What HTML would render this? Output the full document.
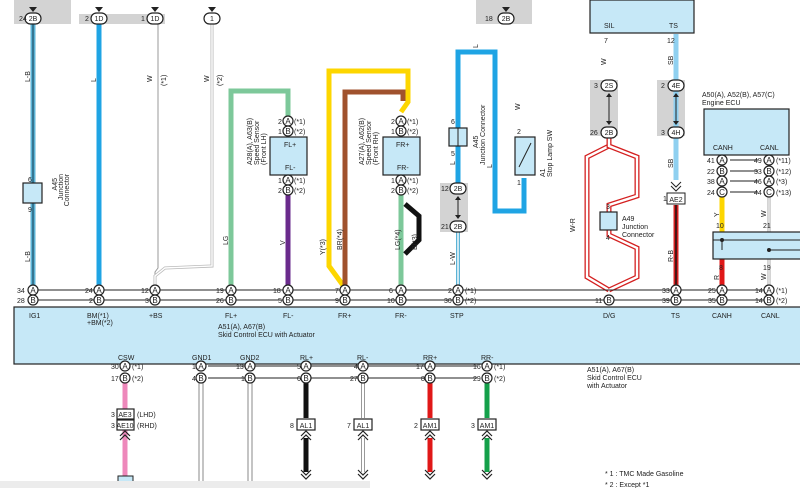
<!DOCTYPE html>
<html><head><meta charset="utf-8"><style>
html,body{margin:0;padding:0;background:#fff;width:800px;height:488px;overflow:hidden}
svg{display:block}
text{font-family:"Liberation Sans",sans-serif;fill:#222}
</style></head><body>
<svg width="800" height="488" viewBox="0 0 800 488" xmlns="http://www.w3.org/2000/svg">
<defs>
<g id="ca"><circle r="5" fill="#fff" stroke="#222" stroke-width="1.2"/><text y="3" font-size="8" text-anchor="middle">A</text></g>
<g id="cb"><circle r="5" fill="#fff" stroke="#222" stroke-width="1.2"/><text y="3" font-size="8" text-anchor="middle">B</text></g>
<g id="cc"><circle r="5" fill="#fff" stroke="#222" stroke-width="1.2"/><text y="3" font-size="8" text-anchor="middle">C</text></g>
<path id="chu" d="M-5,5 L0,0 L5,5 M-5,9 L0,4 L5,9" fill="none" stroke="#222" stroke-width="1.2"/>
<path id="chd" d="M-5,-5 L0,0 L5,-5 M-5,-9 L0,-4 L5,-9" fill="none" stroke="#222" stroke-width="1.2"/>
</defs>
<g font-size="7">
<rect x="14" y="0" width="57" height="24" fill="#d3d3d3"/>
<rect x="79" y="14" width="86" height="10" fill="#d3d3d3"/>
<rect x="476" y="0" width="56" height="24" fill="#d3d3d3"/>
<rect x="590" y="80" width="28" height="56" fill="#d3d3d3"/>
<rect x="657" y="80" width="28" height="56" fill="#d3d3d3"/>
<rect x="440" y="183" width="28" height="49" fill="#d3d3d3"/>

<line x1="33" y1="24" x2="33" y2="290" stroke="#5bb3d6" stroke-width="5"/>
<line x1="33" y1="24" x2="33" y2="290" stroke="#1d4e66" stroke-width="1.2"/>
<line x1="99" y1="24" x2="99" y2="290" stroke="#1fa4e4" stroke-width="5"/>
<polyline points="158,24 158,268 155,272 155,290" fill="none" stroke="#999" stroke-width="1"/>
<polyline points="212,24 212,266 165,268 155,276 155,290" fill="none" stroke="#bbb" stroke-width="3"/>
<polyline points="212,24 212,266 165,268 155,276 155,290" fill="none" stroke="#fff" stroke-width="1.4"/>
<polyline points="231,290 231,91 288,91 288,118" fill="none" stroke="#7dc89a" stroke-width="5"/>
<line x1="288" y1="192" x2="288" y2="290" stroke="#6a2b8c" stroke-width="5"/>
<polyline points="345,288 329,266 329,71 408,71 408,102 401,112" fill="none" stroke="#fdd600" stroke-width="5"/>
<polyline points="345,290 345,92 403,92 403,101" fill="none" stroke="#a0522d" stroke-width="5"/>
<line x1="401" y1="192" x2="401" y2="290" stroke="#7dc89a" stroke-width="5"/>
<polyline points="405,204 419,216 419,240 405,254" fill="none" stroke="#111" stroke-width="5"/>
<polyline points="458,185 458,52 495,52 495,211 524,211 524,178" fill="none" stroke="#1fa4e4" stroke-width="5"/>
<line x1="458" y1="231" x2="458" y2="290" stroke="#5bb3d6" stroke-width="4"/>
<line x1="458" y1="231" x2="458" y2="290" stroke="#fff" stroke-width="1.4"/>
<line x1="676" y1="34" x2="676" y2="180" stroke="#8fd0f0" stroke-width="5"/>
<line x1="676" y1="205" x2="676" y2="290" stroke="#d42020" stroke-width="5"/>
<line x1="676" y1="205" x2="676" y2="290" stroke="#111" stroke-width="1.4"/>
<polyline points="609,137 609,146 587,157 587,277 609,290" fill="none" stroke="#d42020" stroke-width="5"/>
<polyline points="609,137 609,146 587,157 587,277 609,290" fill="none" stroke="#fff" stroke-width="2.4"/>
<polyline points="609,137 609,146 637,157 637,196 609,205 609,235 637,248 637,277 609,290" fill="none" stroke="#d42020" stroke-width="5"/>
<polyline points="609,137 609,146 637,157 637,196 609,205 609,235 637,248 637,277 609,290" fill="none" stroke="#fff" stroke-width="2.4"/>
<line x1="722" y1="196" x2="722" y2="232" stroke="#fdd600" stroke-width="5"/>
<line x1="722" y1="259" x2="722" y2="290" stroke="#e01818" stroke-width="5"/>
<line x1="769" y1="196" x2="769" y2="290" stroke="#aaa" stroke-width="3"/>
<line x1="769" y1="196" x2="769" y2="290" stroke="#fff" stroke-width="1.2"/>

<g stroke="#222" stroke-width="1.2" fill="#fff">
<rect x="25" y="13" width="16" height="11" rx="5.5"/><rect x="91" y="13" width="16" height="11" rx="5.5"/><rect x="147" y="13" width="16" height="11" rx="5.5"/><rect x="204" y="13" width="16" height="11" rx="5.5"/>
<rect x="498" y="13" width="16" height="11" rx="5.5"/>
<rect x="601" y="80" width="16" height="11" rx="5.5"/><rect x="601" y="127" width="16" height="11" rx="5.5"/>
<rect x="668" y="80" width="16" height="11" rx="5.5"/><rect x="668" y="127" width="16" height="11" rx="5.5"/>
<rect x="450" y="183" width="16" height="11" rx="5.5"/><rect x="450" y="221" width="16" height="11" rx="5.5"/>
</g>
<text x="33" y="21" text-anchor="middle">2B</text><text x="19" y="21">24</text>
<text x="99" y="21" text-anchor="middle">1D</text><text x="85" y="21">2</text>
<text x="155" y="21" text-anchor="middle">1D</text><text x="141" y="21">1</text>
<text x="212" y="21" text-anchor="middle">1</text>
<text x="506" y="21" text-anchor="middle">2B</text><text x="485" y="21">18</text>
<text x="609" y="88" text-anchor="middle">2S</text><text x="594" y="88">3</text>
<text x="609" y="135" text-anchor="middle">2B</text><text x="590" y="135">26</text>
<text x="676" y="88" text-anchor="middle">4E</text><text x="661" y="88">2</text>
<text x="676" y="135" text-anchor="middle">4H</text><text x="661" y="135">3</text>
<text x="458" y="191" text-anchor="middle">2B</text><text x="441" y="191">12</text>
<text x="458" y="229" text-anchor="middle">2B</text><text x="441" y="229">21</text>
<g stroke="#222" stroke-width="1"><line x1="609" y1="94" x2="609" y2="124"/><line x1="676" y1="94" x2="676" y2="124"/><line x1="458" y1="197" x2="458" y2="218"/></g>
<g fill="#222"><path d="M29,7 L33,12 L37,7Z"/><path d="M95,7 L99,12 L103,7Z"/><path d="M151,7 L155,12 L159,7Z"/><path d="M208,7 L212,12 L216,7Z"/><path d="M502,7 L506,12 L510,7Z"/>
<path d="M606,97 L609,93 L612,97Z"/><path d="M606,121 L609,125 L612,121Z"/><path d="M673,97 L676,93 L679,97Z"/><path d="M673,121 L676,125 L679,121Z"/><path d="M455,200 L458,196 L461,200Z"/><path d="M455,215 L458,219 L461,215Z"/></g>

<g stroke="#222" stroke-width="1.2" fill="#c6e8f7">
<rect x="23" y="183" width="19" height="20"/>
<rect x="270" y="137" width="37" height="38"/>
<rect x="383" y="137" width="37" height="38"/>
<rect x="449" y="128" width="18" height="18"/>
<rect x="515" y="137" width="20" height="38"/>
<rect x="600" y="212" width="17" height="18"/>
<rect x="590" y="0" width="104" height="33"/>
<rect x="704" y="109" width="85" height="46"/>
<rect x="713" y="232" width="90" height="27"/>
<rect x="14" y="307" width="790" height="57"/>
</g>
<g stroke="#222" stroke-width="1"><line x1="458" y1="128" x2="458" y2="146"/><line x1="713" y1="240" x2="800" y2="240"/><line x1="722" y1="240" x2="722" y2="250"/><line x1="769" y1="250" x2="800" y2="250"/><line x1="519" y1="167" x2="531" y2="143"/></g>
<circle cx="722" cy="240" r="2" fill="#222"/><circle cx="769" cy="250" r="2" fill="#222"/>
<text x="284" y="147" font-size="7">FL+</text><text x="285" y="170">FL-</text>
<text x="396" y="147">FR+</text><text x="397" y="170">FR-</text>
<text x="604" y="28">SIL</text><text x="669" y="28">TS</text>
<text x="713" y="150">CANH</text><text x="760" y="150">CANL</text>
<text x="702" y="97">A50(A), A52(B), A57(C)</text><text x="702" y="105">Engine ECU</text>
<text x="604" y="43">7</text><text x="667" y="43">12</text>
<text x="622" y="221" font-size="7">A49</text><text x="622" y="229">Junction</text><text x="622" y="237">Connector</text>
<text x="663" y="201">12</text>
<rect x="667" y="193" width="18" height="11" fill="#fff" stroke="#222"/><text x="676" y="202" text-anchor="middle">AE2</text>
<path d="M671,182 L676,187 L681,182 M671,186 L676,191 L681,186" fill="none" stroke="#222"/>

<g font-size="7">
<text transform="translate(57,178) rotate(-90)" text-anchor="end">A45</text>
<text transform="translate(63,174) rotate(-90)" text-anchor="end">Junction</text>
<text transform="translate(69,174) rotate(-90)" text-anchor="end">Connector</text>
<text transform="translate(252,165) rotate(-90)">A28(A), A63(B)</text>
<text transform="translate(259,165) rotate(-90)">Speed Sensor</text>
<text transform="translate(266,165) rotate(-90)">(Front LH)</text>
<text transform="translate(364,165) rotate(-90)">A27(A), A62(B)</text>
<text transform="translate(371,165) rotate(-90)">Speed Sensor</text>
<text transform="translate(378,165) rotate(-90)">(Front RH)</text>
<text transform="translate(478,148) rotate(-90)">A45</text>
<text transform="translate(485,165) rotate(-90)">Junction Connector</text>
<text transform="translate(545,177) rotate(-90)">A1</text>
<text transform="translate(552,177) rotate(-90)">Stop Lamp SW</text>
<text transform="translate(30,82) rotate(-90)">L-B</text><text transform="translate(30,262) rotate(-90)">L-B</text>
<text transform="translate(96,82) rotate(-90)">L</text>
<text transform="translate(152,82) rotate(-90)">W</text><text transform="translate(166,86) rotate(-90)">(*1)</text>
<text transform="translate(209,82) rotate(-90)">W</text><text transform="translate(222,86) rotate(-90)">(*2)</text>
<text transform="translate(228,245) rotate(-90)">LG</text><text transform="translate(285,245) rotate(-90)">V</text>
<text transform="translate(325,255) rotate(-90)">Y(*3)</text><text transform="translate(342,250) rotate(-90)">BR(*4)</text>
<text transform="translate(400,250) rotate(-90)">LG(*4)</text><text transform="translate(417,250) rotate(-90)">B(*3)</text>
<text transform="translate(455,265) rotate(-90)">L-W</text><text transform="translate(455,165) rotate(-90)">L</text>
<text transform="translate(478,48) rotate(-90)">L</text><text transform="translate(492,168) rotate(-90)">L</text>
<text transform="translate(520,110) rotate(-90)">W</text>
<text transform="translate(606,65) rotate(-90)">W</text>
<text transform="translate(673,65) rotate(-90)">SB</text><text transform="translate(673,168) rotate(-90)">SB</text>
<text transform="translate(673,262) rotate(-90)">R-B</text>
<text transform="translate(719,217) rotate(-90)">Y</text><text transform="translate(719,280) rotate(-90)">R</text>
<text transform="translate(766,217) rotate(-90)">W</text><text transform="translate(766,280) rotate(-90)">W</text>
<text transform="translate(575,232) rotate(-90)">W-R</text>
</g>
<text x="28" y="182">6</text><text x="28" y="212">9</text>
<text x="451" y="124">6</text><text x="451" y="156">5</text>
<text x="517" y="134">2</text><text x="517" y="185">1</text>
<text x="606" y="209">3</text><text x="606" y="240">4</text>

<g stroke="#222" stroke-width="1">
<line x1="38" y1="290" x2="764" y2="290"/><line x1="38" y1="300" x2="764" y2="300"/>
</g>
<g>
<use href="#ca" x="33" y="290"/><use href="#cb" x="33" y="300"/>
<use href="#ca" x="99" y="290"/><use href="#cb" x="99" y="300"/>
<use href="#ca" x="155" y="290"/><use href="#cb" x="155" y="300"/>
<use href="#ca" x="231" y="290"/><use href="#cb" x="231" y="300"/>
<use href="#ca" x="288" y="290"/><use href="#cb" x="288" y="300"/>
<use href="#ca" x="345" y="290"/><use href="#cb" x="345" y="300"/>
<use href="#ca" x="401" y="290"/><use href="#cb" x="401" y="300"/>
<use href="#ca" x="458" y="290"/><use href="#cb" x="458" y="300"/>
<use href="#cb" x="609" y="300"/>
<use href="#ca" x="676" y="290"/><use href="#cb" x="676" y="300"/>
<use href="#ca" x="722" y="290"/><use href="#cb" x="722" y="300"/>
<use href="#ca" x="769" y="290"/><use href="#cb" x="769" y="300"/>
<use href="#ca" x="288" y="121"/><use href="#cb" x="288" y="131"/><use href="#ca" x="288" y="180"/><use href="#cb" x="288" y="190"/>
<use href="#ca" x="401" y="121"/><use href="#cb" x="401" y="131"/><use href="#ca" x="401" y="180"/><use href="#cb" x="401" y="190"/>
<use href="#ca" x="722" y="160"/><use href="#cb" x="722" y="171"/><use href="#ca" x="722" y="181"/><use href="#cc" x="722" y="192"/>
<use href="#ca" x="769" y="160"/><use href="#cb" x="769" y="171"/><use href="#ca" x="769" y="181"/><use href="#cc" x="769" y="192"/>
</g>
<g stroke="#222" stroke-width="1"><line x1="730" y1="160" x2="758" y2="160"/><line x1="730" y1="171" x2="758" y2="171"/><line x1="730" y1="181" x2="758" y2="181"/><line x1="730" y1="192" x2="758" y2="192"/></g>
<text x="17" y="293">34</text><text x="17" y="303">28</text>
<text x="85" y="293">24</text><text x="89" y="303">2</text>
<text x="141" y="293">12</text><text x="145" y="303">3</text>
<text x="216" y="293">19</text><text x="216" y="303">26</text>
<text x="273" y="293">18</text><text x="278" y="303">5</text>
<text x="335" y="293">7</text><text x="335" y="303">9</text>
<text x="389" y="293">6</text><text x="387" y="303">10</text>
<text x="448" y="293">2</text><text x="444" y="303">30</text><text x="465" y="293">(*1)</text><text x="465" y="303">(*2)</text>
<text x="595" y="303">11</text>
<text x="662" y="293">33</text><text x="662" y="303">39</text>
<text x="708" y="293">25</text><text x="708" y="303">35</text>
<text x="755" y="293">14</text><text x="755" y="303">14</text><text x="776" y="293">(*1)</text><text x="776" y="303">(*2)</text>
<text x="294" y="124">(*1)</text><text x="294" y="134">(*2)</text><text x="278" y="124">2</text><text x="278" y="134">1</text>
<text x="294" y="183">(*1)</text><text x="294" y="193">(*2)</text><text x="278" y="183">1</text><text x="278" y="193">2</text>
<text x="407" y="124">(*1)</text><text x="407" y="134">(*2)</text><text x="391" y="124">2</text><text x="391" y="134">1</text>
<text x="407" y="183">(*1)</text><text x="407" y="193">(*2)</text><text x="391" y="183">1</text><text x="391" y="193">2</text>
<text x="707" y="163">41</text><text x="707" y="174">22</text><text x="707" y="184">38</text><text x="707" y="195">24</text>
<text x="754" y="163">49</text><text x="754" y="174">33</text><text x="754" y="184">46</text><text x="754" y="195">44</text>
<text x="776" y="163">(*11)</text><text x="776" y="174">(*12)</text><text x="776" y="184">(*3)</text><text x="776" y="195">(*13)</text>
<text x="716" y="228">10</text><text x="763" y="228">21</text><text x="719" y="270">8</text><text x="763" y="270">19</text>

<text x="29" y="318">IG1</text><text x="87" y="318">BM(*1)</text><text x="87" y="325">+BM(*2)</text>
<text x="149" y="318">+BS</text><text x="225" y="318">FL+</text><text x="283" y="318">FL-</text><text x="338" y="318">FR+</text><text x="395" y="318">FR-</text><text x="450" y="318">STP</text>
<text x="603" y="318">D/G</text><text x="671" y="318">TS</text><text x="712" y="318">CANH</text><text x="761" y="318">CANL</text>
<text x="218" y="329">A51(A), A67(B)</text><text x="218" y="337">Skid Control ECU with Actuator</text>
<text x="118" y="360">CSW</text><text x="192" y="360">GND1</text><text x="240" y="360">GND2</text><text x="300" y="360">RL+</text><text x="357" y="360">RL-</text><text x="423" y="360">RR+</text><text x="481" y="360">RR-</text>
<text x="587" y="372">A51(A), A67(B)</text><text x="587" y="380">Skid Control ECU</text><text x="587" y="388">with Actuator</text>
<text x="605" y="476">* 1 : TMC Made Gasoline</text><text x="605" y="487">* 2 : Except *1</text>

<line x1="125" y1="383" x2="125" y2="478" stroke="#ee88bb" stroke-width="5"/>
<g fill="none" stroke="#888" stroke-width="1"><line x1="199" y1="383" x2="199" y2="488"/><line x1="203" y1="383" x2="203" y2="488"/><line x1="248" y1="383" x2="248" y2="488"/><line x1="252" y1="383" x2="252" y2="488"/></g>
<line x1="306" y1="383" x2="306" y2="418" stroke="#111" stroke-width="5"/><line x1="306" y1="438" x2="306" y2="472" stroke="#111" stroke-width="5"/>
<line x1="363" y1="383" x2="363" y2="418" stroke="#999" stroke-width="4"/><line x1="363" y1="383" x2="363" y2="418" stroke="#fff" stroke-width="2"/>
<line x1="363" y1="438" x2="363" y2="472" stroke="#999" stroke-width="4"/><line x1="363" y1="438" x2="363" y2="472" stroke="#fff" stroke-width="2"/>
<line x1="430" y1="383" x2="430" y2="418" stroke="#e01818" stroke-width="5"/><line x1="430" y1="438" x2="430" y2="472" stroke="#e01818" stroke-width="5"/>
<line x1="487" y1="383" x2="487" y2="418" stroke="#14a04a" stroke-width="5"/><line x1="487" y1="438" x2="487" y2="472" stroke="#14a04a" stroke-width="5"/>
<use href="#chu" x="306" y="431"/><use href="#chu" x="363" y="431"/><use href="#chu" x="430" y="431"/><use href="#chu" x="487" y="431"/><use href="#chu" x="125" y="431"/>
<use href="#chd" x="306" y="479"/><use href="#chd" x="363" y="479"/><use href="#chd" x="430" y="479"/><use href="#chd" x="487" y="479"/>
<g stroke="#222" stroke-width="1"><line x1="208" y1="366" x2="477" y2="366"/><line x1="208" y1="378" x2="477" y2="378"/></g>
<use href="#ca" x="125" y="366"/><use href="#cb" x="125" y="378"/>
<use href="#ca" x="201" y="366"/><use href="#cb" x="201" y="378"/>
<use href="#ca" x="250" y="366"/><use href="#cb" x="250" y="378"/>
<use href="#ca" x="306" y="366"/><use href="#cb" x="306" y="378"/>
<use href="#ca" x="363" y="366"/><use href="#cb" x="363" y="378"/>
<use href="#ca" x="430" y="366"/><use href="#cb" x="430" y="378"/>
<use href="#ca" x="487" y="366"/><use href="#cb" x="487" y="378"/>
<text x="111" y="369">30</text><text x="111" y="381">17</text><text x="132" y="369">(*1)</text><text x="132" y="381">(*2)</text>
<text x="192" y="369">1</text><text x="192" y="381">4</text><text x="236" y="369">13</text><text x="241" y="381">1</text>
<text x="297" y="369">5</text><text x="297" y="381">6</text><text x="354" y="369">4</text><text x="350" y="381">27</text>
<text x="416" y="369">17</text><text x="421" y="381">8</text><text x="473" y="369">16</text><text x="473" y="381">29</text><text x="494" y="369">(*1)</text><text x="494" y="381">(*2)</text>
<g fill="#fff" stroke="#222" stroke-width="1.2">
<rect x="117" y="409" width="17" height="10"/><rect x="117" y="420" width="17" height="10"/>
<rect x="297" y="419" width="18" height="11"/><rect x="354" y="419" width="18" height="11"/><rect x="421" y="419" width="18" height="11"/><rect x="478" y="419" width="18" height="11"/>
</g>
<text x="125" y="417" text-anchor="middle">AE3</text><text x="125" y="428" text-anchor="middle">AE10</text><text x="111" y="417">3</text><text x="111" y="428">3</text><text x="137" y="417">(LHD)</text><text x="137" y="428">(RHD)</text>
<text x="306" y="428" text-anchor="middle">AL1</text><text x="363" y="428" text-anchor="middle">AL1</text><text x="430" y="428" text-anchor="middle">AM1</text><text x="487" y="428" text-anchor="middle">AM1</text>
<text x="290" y="428">8</text><text x="347" y="428">7</text><text x="414" y="428">2</text><text x="471" y="428">3</text>
<rect x="118" y="476" width="15" height="12" fill="#c6e8f7" stroke="#222"/>
<rect x="0" y="481" width="370" height="7" fill="#ececec"/>
</g>
</svg>
</body></html>
